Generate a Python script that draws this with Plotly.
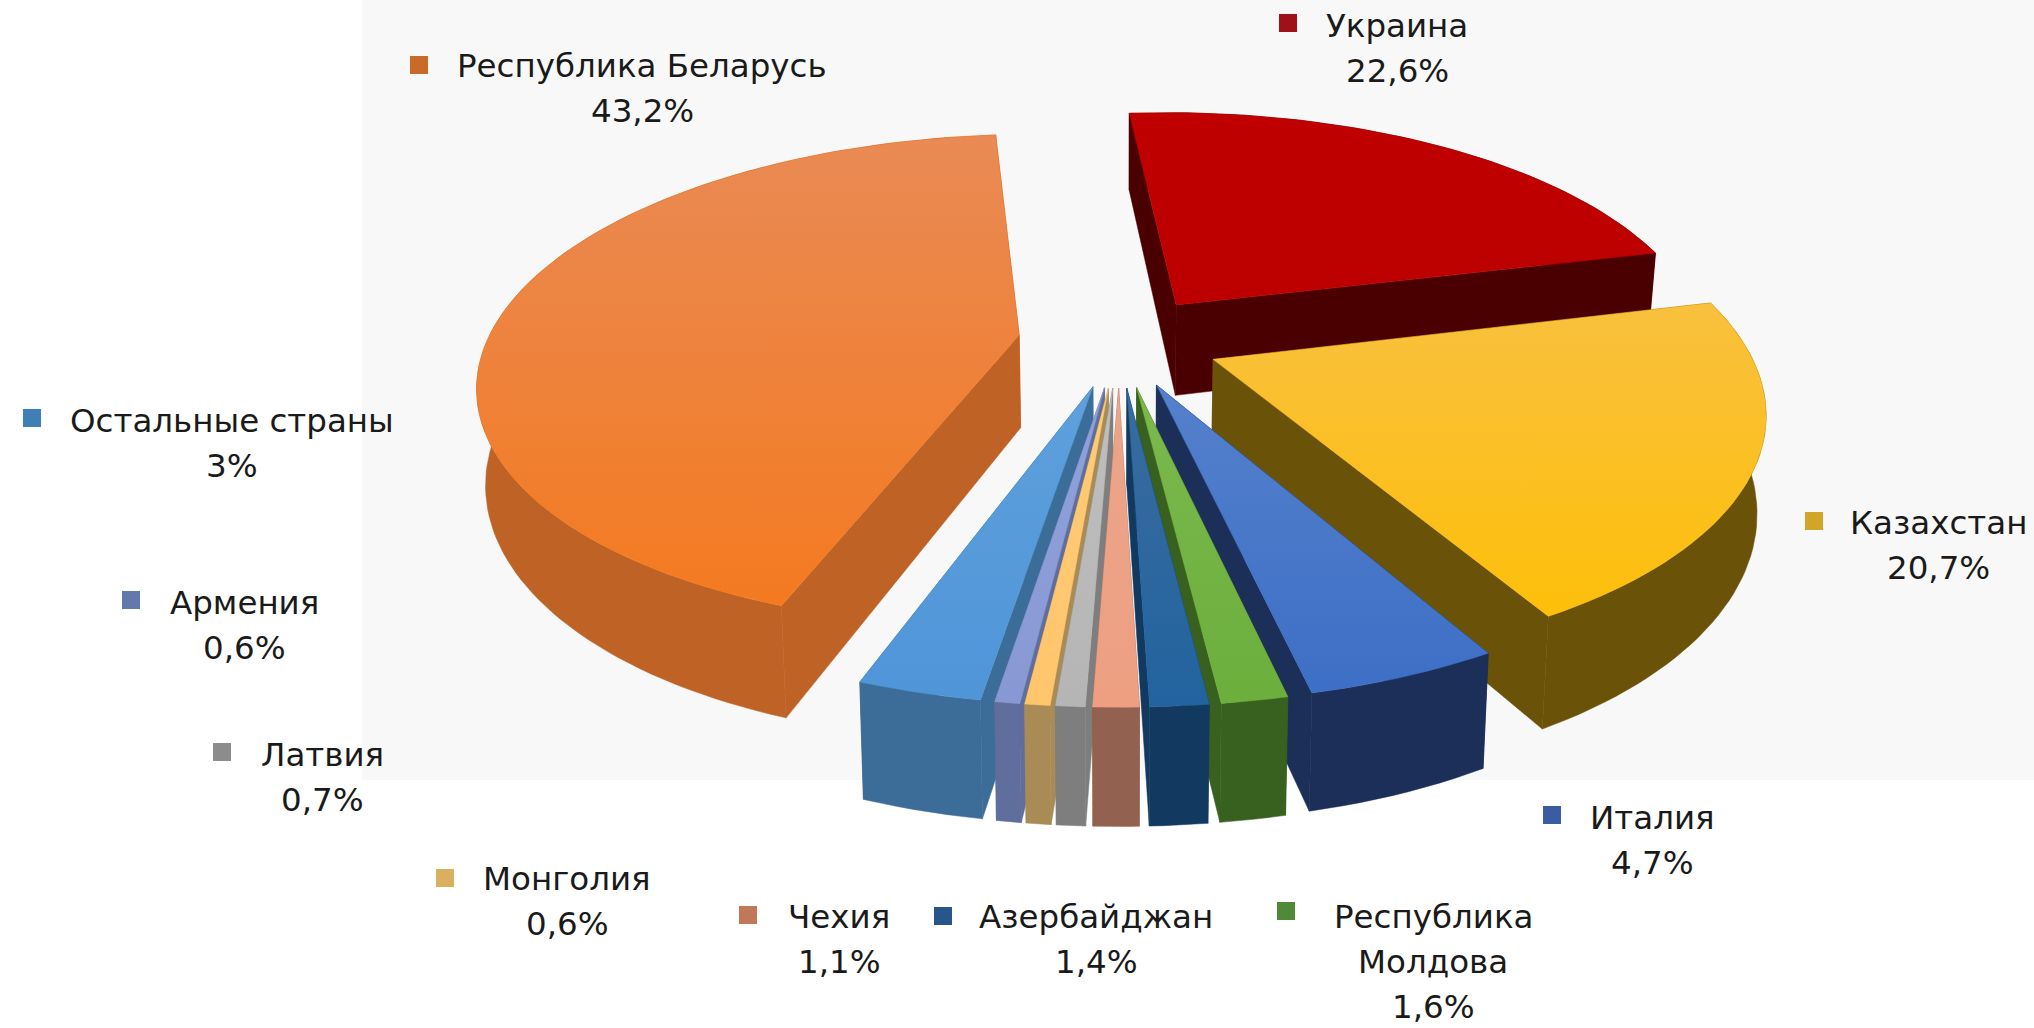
import math
import plotly.graph_objects as go

# ---- data ----
countries = ["Украина", "Казахстан", "Италия", "Республика Молдова", "Азербайджан", "Чехия",
             "Латвия", "Монголия", "Армения", "Остальные страны", "Республика Беларусь"]
shares = [22.6, 20.7, 4.7, 1.6, 1.4, 1.1, 0.7, 0.6, 0.6, 3.0, 43.2]
share_labels = ["22,6%", "20,7%", "4,7%", "1,6%", "1,4%", "1,1%", "0,7%", "0,6%", "0,6%", "3%", "43,2%"]
label_lines = [["Украина"], ["Казахстан"], ["Италия"], ["Республика", "Молдова"], ["Азербайджан"], ["Чехия"],
               ["Латвия"], ["Монголия"], ["Армения"], ["Остальные страны"], ["Республика Беларусь"]]

# ---- styles ----
top_light = ["#C00000", "#F9C03E", "#5580CC", "#7CB84F", "#3A6C9E", "#EBA58A", "#BFBFBF", "#FFCB78", "#8FA2DC", "#5FA0DC", "#E98A55"]
top_dark = ["#BC0000", "#FDBF0A", "#3D6FC6", "#6CAF3C", "#22639F", "#EE9F82", "#B5B5B5", "#FFC56B", "#8898D2", "#4F95D8", "#F47A20"]
walls = ["#4A0000", "#6B5209", "#1B2F58", "#38601F", "#123A60", "#93614F", "#7E7E7E", "#A98C55", "#5F6E9C", "#3C6C98", "#BF6225"]
marker_colors = ["#A01018", "#D0A528", "#3A5CA0", "#4E8A38", "#28568A", "#C07858", "#8C8C8C", "#D8B060", "#6478AE", "#3F7FB8", "#C86A28"]
label_x = [1397, 1938, 1652, 1433, 1096, 839, 322, 567, 244, 232, 642]
label_y = [26, 523, 818, 917, 917, 917, 755, 879, 603, 421, 66]
marker_x = [1288, 1814, 1552, 1286, 943, 748, 222, 445, 131, 32, 419]
marker_y = [23, 521, 815, 911, 916, 915, 752, 878, 600, 418, 65]
FONT = "DejaVu Sans"
FONT_SIZE = 32.5
LINE_STEP = 45

# ---- projection of an exploded, tilted disc ----
CX, CY = 1119, 341
RX, A, B = 532, 240, 0.185
EXPLODE = 0.19
ROT = -5.0
DEPTH = 93
CONVERGE = 0.014


def project(wx, wy, low=False):
    s = 1 / (1 + B * wy)
    x = RX * wx * s
    if low:
        return CX + x * (1 - CONVERGE), CY - A * wy * s + DEPTH * s
    return CX + x, CY - A * wy * s


def polygon(points):
    xs, ys = zip(*points)
    return list(xs) + [xs[0]], list(ys) + [ys[0]]


total = sum(shares)
spans = []
start = ROT
for v in shares:
    sweep = v / total * 360
    spans.append((start, start + sweep))
    start += sweep

fig = go.Figure()
fig.add_shape(type="rect", xref="x", yref="y", x0=362, x1=2034, y0=0, y1=780,
              fillcolor="#F8F8F8", line_width=0, layer="below")

order = sorted(range(len(shares)),
               key=lambda i: -math.cos(math.radians(sum(spans[i]) / 2)))
for i in order:
    a0, a1 = spans[i]
    mid = math.radians((a0 + a1) / 2)
    ox, oy = EXPLODE * math.sin(mid), EXPLODE * math.cos(mid)
    n = max(4, int((a1 - a0) / 1.5))
    arc = []
    for k in range(n + 1):
        t = math.radians(a0 + (a1 - a0) * k / n)
        arc.append((ox + math.sin(t), oy + math.cos(t)))
    tip = (ox, oy)
    name = countries[i]
    hover = f"{name}: {share_labels[i]}"

    def face(points, **style):
        xs, ys = polygon(points)
        fig.add_trace(go.Scatter(x=xs, y=ys, mode="lines", fill="toself", name=name, text=hover,
                                 hoverinfo="text", line=dict(width=0.5, color=style.get("edge")),
                                 showlegend=False, **style.get("extra", {})))

    wall = dict(edge=walls[i], extra=dict(fillcolor=walls[i]))
    for end in (arc[0], arc[-1]):
        face([project(*tip), project(*end), project(*end, low=True), project(*tip, low=True)], **wall)
    face([project(*p) for p in arc] + [project(*p, low=True) for p in reversed(arc)], **wall)
    face([project(*tip)] + [project(*p) for p in arc], edge=top_dark[i],
         extra=dict(fillgradient=dict(type="vertical",
                                      colorscale=[[0, top_dark[i]], [1, top_light[i]]])))

# ---- labels and legend keys ----
fig.add_trace(go.Scatter(x=marker_x, y=marker_y, mode="markers", hoverinfo="skip", showlegend=False,
                         marker=dict(symbol="square", size=18, color=marker_colors, line_width=0)))
annotations = []
for i, lines in enumerate(label_lines):
    for k, line in enumerate(lines + [share_labels[i]]):
        annotations.append(dict(x=label_x[i], y=label_y[i] + LINE_STEP * k, text=line, showarrow=False,
                                xref="x", yref="y", xanchor="center", yanchor="middle",
                                font=dict(family=FONT, size=FONT_SIZE, color="#1A1A1A")))

fig.update_layout(
    width=2034, height=1028, margin=dict(l=0, r=0, t=0, b=0),
    paper_bgcolor="white", plot_bgcolor="white", annotations=annotations,
    xaxis=dict(range=[0, 2034], visible=False, fixedrange=True),
    yaxis=dict(range=[1028, 0], visible=False, fixedrange=True),
)
fig.write_html("out.html", config=dict(displayModeBar=False),
               post_script="document.body.style.margin='0';document.body.style.overflow='hidden';")
